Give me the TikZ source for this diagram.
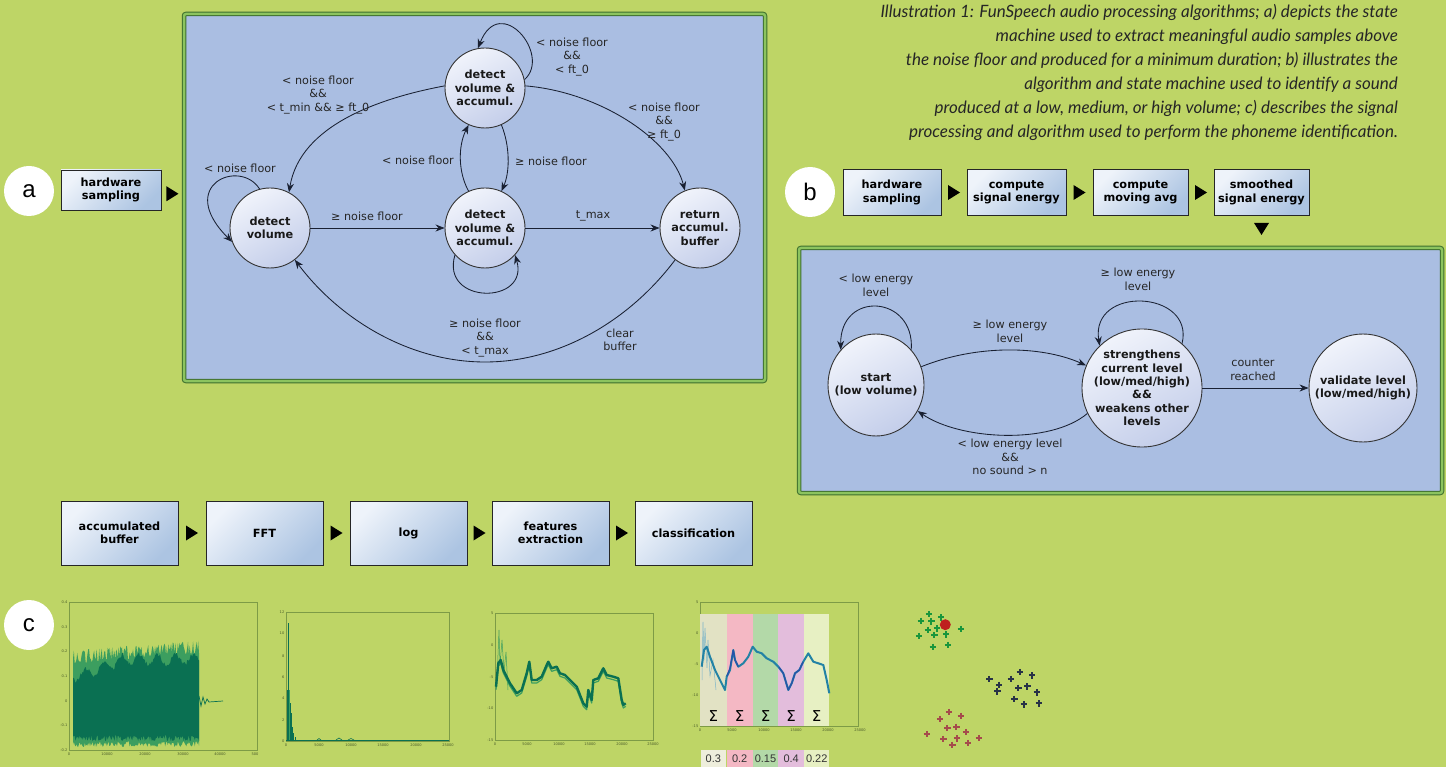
\documentclass[tikz,border=0pt]{standalone}
\usepackage{fontspec}
\setmainfont{DejaVu Sans}
\newfontfamily\capfont{Lato}
\newfontfamily\letfont{Liberation Sans}
\usetikzlibrary{arrows.meta,shapes.geometric,calc}
\definecolor{bg}{RGB}{190,213,102}
\definecolor{panelblue}{RGB}{170,190,226}
\definecolor{frameg}{RGB}{60,110,45}
\definecolor{bandg}{RGB}{140,196,95}
\definecolor{edgec}{RGB}{25,32,50}
\definecolor{stlight}{RGB}{240,243,251}
\definecolor{stdark}{RGB}{196,206,234}
\definecolor{boxlight}{RGB}{238,243,250}
\definecolor{boxdark}{RGB}{172,196,226}
\definecolor{axc}{RGB}{125,155,70}
\definecolor{wavedark}{RGB}{10,112,82}
\definecolor{wavelight}{RGB}{60,158,95}
\definecolor{curveb}{RGB}{35,130,165}
\definecolor{curvebd}{RGB}{40,80,170}
\definecolor{bandA}{RGB}{226,226,196}
\definecolor{bandB}{RGB}{244,184,196}
\definecolor{bandC}{RGB}{179,217,168}
\definecolor{bandD}{RGB}{227,189,220}
\definecolor{bandE}{RGB}{231,240,195}
\definecolor{crg}{RGB}{25,150,60}
\definecolor{crn}{RGB}{40,50,70}
\definecolor{crb}{RGB}{165,75,75}
\definecolor{reddot}{RGB}{190,30,30}
\newcommand{\rtri}[1]{\fill[black] (#1) ++(-6,-7.5) -- ++(12,7.5) -- ++(-12,7.5) -- cycle;}
\newcommand{\dtri}[1]{\fill[black] (#1) ++(-7.5,-6) -- ++(15,0) -- ++(-7.5,12) -- cycle;}
\tikzset{
  stbase/.style={draw=black!80, line width=0.9pt, top color=stlight, bottom color=stdark, shading angle=30, inner sep=0pt},
  stc/.style={stbase, circle, minimum size=80pt},
  ste/.style={stbase, ellipse},
  stt/.style={align=center, font=\fontsize{11.3}{13.3}\selectfont\bfseries, inner sep=0pt, text=black!90},
  lab/.style={align=center, font=\fontsize{11.2}{13.5}\selectfont, inner sep=0pt, text=black!85},
  edge/.style={draw=edgec, line width=0.85pt, -{Stealth[length=9pt,width=7pt]}},
  box/.style={rectangle, draw=black!85, line width=0.9pt, top color=boxlight, bottom color=boxdark, shading angle=45, align=center, font=\fontsize{11.3}{13.3}\selectfont\bfseries, inner sep=0pt},
  panel/.style={rectangle, rounded corners=2pt, draw=frameg, line width=1pt, double=bandg, double distance=2.5pt, fill=panelblue, inner sep=0pt},
  letc/.style={circle, fill=white, minimum size=50pt, inner sep=0pt, font=\letfont\fontsize{24}{24}\selectfont},
  capn/.style={align=right, font=\capfont\itshape\fontsize{17}{24}\selectfont, inner sep=0pt, text=black!85},
  axisf/.style={draw=axc, line width=0.45pt},
  tk/.style={font=\fontsize{3.6}{4}\selectfont, text=axc!60!black, inner sep=0.5pt},
  crs/.style={line width=1.9pt},
  valbox/.style={rectangle, minimum width=25pt, minimum height=18pt, inner sep=0pt, font=\letfont\fontsize{11}{11}\selectfont, text=black!80},
  sig/.style={font=\fontsize{15}{15}\selectfont, inner sep=0pt, text=black}
}
\begin{document}
\begin{tikzpicture}[x=1pt,y=-1pt]
\useasboundingbox (0,0) rectangle (1446,767);
\fill[bg] (0,0) rectangle (1446,767);

% ---------------- caption
\node[capn, anchor=north east] (cap) at (1398,4) {Illustration 1: FunSpeech audio processing algorithms; a) depicts the state\\machine used to extract meaningful audio samples above\\the noise floor and produced for a minimum duration; b) illustrates the\\algorithm and state machine used to identify a sound\\produced at a low, medium, or high volume; c) describes the signal\\processing and algorithm used to perform the phoneme identification.};

% ---------------- panel a
\node[letc] (la) at (29,191) {a};
\node[box, minimum width=100pt, minimum height=40pt] (ha) at (111,190) {hardware\\sampling};
\node[panel, minimum width=581pt, minimum height=367pt] (pa) at (474.5,197.5) {};
\rtri{$(ha.east)!0.5!(pa.west)$}

\node[stc, label={[stt]center:{detect\\volume}}] (dv) at (270,228) {};
\node[stc, label={[stt]center:{detect\\volume \&\\accumul.}}] (mid) at (485,228) {};
\node[stc, label={[stt]center:{detect\\volume \&\\accumul.}}] (top) at (485,88) {};
\node[stc, label={[stt]center:{return\\accumul.\\buffer}}] (ret) at (700,228) {};

\draw[edge] (dv.105) .. controls (240,158) and (175,185) .. (dv.200);
\draw[edge] (dv) -- (mid);
\draw[edge] (mid) -- (ret);
\draw[edge] (mid.222) .. controls (440,305) and (530,305) .. (mid.318);
\draw[edge] (mid.114) .. controls (458,172) and (458,146) .. (top.246);
\draw[edge] (top.294) .. controls (510,146) and (510,172) .. (mid.66);
\draw[edge] (top.12) .. controls (552,55) and (500,-8) .. (top.100);
\draw[edge] (top.177) .. controls (380,98) and (300,125) .. (dv.62);
\draw[edge] (top.3) .. controls (600,92) and (672,140) .. (ret.112);
\draw[edge] (ret.232) .. controls (630,320) and (560,362) .. (485,362) .. controls (410,362) and (340,320) .. (dv.308);

\node[lab] (l1) at (240,168) {< noise floor};
\node[lab] (l2) at (367,216) {≥ noise floor};
\node[lab] (l3) at (593,216) {t\_max};
\node[lab] (l4) at (418,160) {< noise floor};
\node[lab] (l5) at (551,161) {≥ noise floor};
\node[lab] (l6) at (572,57) {< noise floor\\\&\&\\< ft\_0};
\node[lab] (l7) at (318,95) {< noise floor\\\&\&\\< t\_min \&\& ≥ ft\_0};
\node[lab] (l8) at (664,122) {< noise floor\\\&\&\\≥ ft\_0};
\node[lab] (l9) at (485,338) {≥ noise floor\\\&\&\\< t\_max};
\node[lab] (l10) at (620,340) {clear\\buffer};

% ---------------- panel b
\node[letc] (lb) at (810,192) {b};
\node[box, minimum width=98pt, minimum height=46pt] (hb1) at (892,192.5) {hardware\\sampling};
\node[box, minimum width=99pt, minimum height=46pt] (hb2) at (1016.5,192.5) {compute\\signal energy};
\node[box, minimum width=95pt, minimum height=46pt] (hb3) at (1140.5,192.5) {compute\\moving avg};
\node[box, minimum width=95pt, minimum height=46pt] (hb4) at (1261.5,192.5) {smoothed\\signal energy};
\rtri{$(hb1.east)!0.5!(hb2.west)$}
\rtri{$(hb2.east)!0.5!(hb3.west)$}
\rtri{$(hb3.east)!0.5!(hb4.west)$}
\node[panel, minimum width=643pt, minimum height=245pt] (pb) at (1120.5,370.5) {};
\dtri{$(hb4.south)+(0,13)$}

\node[ste, minimum width=96pt, minimum height=102pt, label={[stt]center:{start\\(low volume)}}] (sb) at (876,385) {};
\node[ste, minimum width=120pt, minimum height=118pt, label={[stt]center:{strengthens\\current level\\(low/med/high)\\\&\&\\weakens other\\levels}}] (str) at (1142,388) {};
\node[ste, minimum width=108pt, minimum height=108pt, label={[stt]center:{validate level\\(low/med/high)}}] (val) at (1363,388) {};

\draw[edge] (sb.45) .. controls (915,295) and (840,290) .. (sb.135);
\draw[edge] (sb.22) .. controls (975,345) and (1040,345) .. (str.158);
\draw[edge] (str.205) .. controls (1050,445) and (960,440) .. (sb.328);
\draw[edge] (str.48) .. controls (1195,290) and (1090,285) .. (str.135);
\draw[edge] (str) -- (val);

\node[lab] (m1) at (876,285.5) {< low energy\\level};
\node[lab] (m2) at (1010,331.5) {≥ low energy\\level};
\node[lab] (m3) at (1010,457) {< low energy level\\\&\&\\no sound > n};
\node[lab] (m4) at (1138,279.5) {≥ low energy\\level};
\node[lab] (m5) at (1253,369.5) {counter\\reached};

% ---------------- panel c
\node[box, minimum width=117pt, minimum height=64pt] (c1) at (119.5,533) {accumulated\\buffer};
\node[box, minimum width=117pt, minimum height=64pt] (c2) at (264.5,533) {FFT};
\node[box, minimum width=117pt, minimum height=64pt] (c3) at (408.5,533) {log};
\node[box, minimum width=117pt, minimum height=64pt] (c4) at (550.5,533) {features\\extraction};
\node[box, minimum width=117pt, minimum height=64pt] (c5) at (693.5,533) {classification};
\rtri{$(c1.east)!0.5!(c2.west)$}
\rtri{$(c2.east)!0.5!(c3.west)$}
\rtri{$(c3.east)!0.5!(c4.west)$}
\rtri{$(c4.east)!0.5!(c5.west)$}
\node[letc] (lc) at (29,625) {c};

% plot 1: waveform
\draw[axisf] (69,602) rectangle (257,750);
\foreach \v/\yy [count=\i] in {0.4/602,0.3/627,0.2/651,0.1/676,0/701,-0.1/725,-0.2/750}
  \node[tk, anchor=east] (pay\i) at (68,\yy) {\v};
\foreach \v/\xx [count=\i] in {0/69,10000/107,20000/145,30000/183,40000/220,500/255}
  \node[tk, anchor=north] (pax\i) at (\xx,752) {\v};
\pgfmathsetseed{17}
\fill[wavelight] plot[domain=73:199, samples=150] (\x,{664-10*(\x-73)/126-14*rnd}) -- plot[domain=199:73, samples=150] (\x,{741+6*rnd}) -- cycle;
\fill[wavedark] plot[domain=73:199, samples=150] (\x,{680-18*min(1,(\x-73)/50)+5*sin(\x*20)-5*rnd}) -- plot[domain=199:73, samples=150] (\x,{735+6*rnd}) -- cycle;
\draw[wavedark, line width=0.7pt] (199,696) -- (201,706) -- (203,697) -- (205,704) -- (207,699) -- (209,702) -- (223,701);

% plot 2: spectrum
\draw[axisf] (286,612) rectangle (449,741);
\foreach \v/\yy [count=\i] in {12/612,10/633,8/656,6/677,4/698,2/720,0/741}
  \node[tk, anchor=east] (pby\i) at (285,\yy) {\v};
\foreach \v/\xx [count=\i] in {0/286,5000/319,10000/351,15000/383,20000/416,25000/448}
  \node[tk, anchor=north] (pbx\i) at (\xx,743) {\v};
\draw[wavelight, line width=0.6pt] (288,741) -- (288,650) (289.5,741) -- (289.5,690);
\draw[wavedark, line width=0.8pt] (287.3,741) -- (287.3,690) (288.7,741) -- (288.7,623) (290,741) -- (290,703) (291.2,741) -- (291.2,713) (292.4,741) -- (292.4,727) (293.6,741) -- (293.6,733) (295,741) -- (295,737);
\draw[wavedark, line width=0.8pt] (286,740.5) -- (449,740.5);
\draw[wavedark, line width=0.6pt] (317,740) -- (319,738.5) -- (321,740) (336,740) -- (339,738) -- (342,740) (348,740) -- (351,738.5) -- (354,740);

% plot 3: log spectrum
\draw[axisf] (495,613) rectangle (653,740);
\foreach \v/\yy [count=\i] in {5/613,0/645,-5/677,-10/708,-15/740}
  \node[tk, anchor=east] (pcy\i) at (494,\yy) {\v};
\foreach \v/\xx [count=\i] in {0/495,5000/527,10000/559,15000/590,20000/622,25000/653}
  \node[tk, anchor=north] (pcx\i) at (\xx,742) {\v};
\draw[wavelight, line width=0.5pt] (497,680) -- (499,630) -- (500,665) -- (502,640) -- (504,672) -- (506,652) -- (508,690);
\draw[wavelight, line width=1.2pt, line join=round, shift={(0,3)}] plot coordinates {(496,686.7) (498.3,663.3) (500.7,660) (503.3,670) (510,683.3) (516.7,693.3) (521.7,690) (526.7,673.3) (529.3,661.7) (531.7,680) (536.7,680) (541.7,676.7) (546.7,665) (548.3,661.7) (551.7,668.3) (556.7,666.7) (560,673.3) (565,675) (570,680) (576.7,686.7) (583.3,703.3) (586.7,706.7) (588.3,690) (591.7,700) (593.3,680) (598.3,678.3) (603.3,668.3) (606.7,675) (613.3,676.7) (618.3,678.3) (621.7,700) (623.3,705) (625.7,703.3)};
\draw[wavedark, line width=2.4pt, line join=round] plot coordinates {(496,686.7) (498.3,663.3) (500.7,660) (503.3,670) (510,683.3) (516.7,693.3) (521.7,690) (526.7,673.3) (529.3,661.7) (531.7,680) (536.7,680) (541.7,676.7) (546.7,665) (548.3,661.7) (551.7,668.3) (556.7,666.7) (560,673.3) (565,675) (570,680) (576.7,686.7) (583.3,703.3) (586.7,706.7) (588.3,690) (591.7,700) (593.3,680) (598.3,678.3) (603.3,668.3) (606.7,675) (613.3,676.7) (618.3,678.3) (621.7,700) (623.3,705) (625.7,703.3)};

% plot 4: features
\draw[axisf] (700,602) rectangle (858,726);
\foreach \v/\yy [count=\i] in {5/602,0/633,-5/664,-10/695,-15/726}
  \node[tk, anchor=east] (pdy\i) at (699,\yy) {\v};
\foreach \v/\xx [count=\i] in {0/700,5000/732,10000/764,15000/796,20000/828,25000/860}
  \node[tk, anchor=north] (pdx\i) at (\xx,728) {\v};
\fill[bandA] (700,614) rectangle (726.7,726);
\fill[bandB] (726.7,614) rectangle (752.7,726);
\fill[bandC] (752.7,614) rectangle (778.3,726);
\fill[bandD] (778.3,614) rectangle (804,726);
\fill[bandE] (804,614) rectangle (829.3,726);
\draw[curveb!60, line width=0.5pt] (702,680) -- (703,622) -- (704,660) -- (705,628) -- (707,668) -- (708,640) -- (710,676) -- (713,660) -- (716,690);
\draw[curveb, line width=2pt, line join=round] plot coordinates {(701.7,666.7) (704,650) (706.7,646.7) (710,656.7) (715,670) (720,680) (725,690) (726.7,676.7) (730,670) (733.3,650) (735,660) (738.3,666.7) (743.3,663.3) (748.3,656.7) (752.7,646.7) (756.7,651.7) (761.7,653.3) (766.7,658.3) (773.3,661.7) (778.3,666.7) (783.3,673.3) (788.3,690) (791.7,683.3) (795,673.3) (799.3,670) (803.3,661.7) (808.3,653.3) (813.3,661.7) (818.3,663.3) (823.3,665) (826.7,680) (829.3,693.3)};
\draw[curvebd, line width=1.2pt, line join=round] (727,676) -- (730,668) -- (733.3,650) -- (735,660) -- (738.3,666.7) (779,667) -- (783.3,673.3) -- (788.3,690) -- (791.7,683.3) -- (795,673.3) -- (799.3,670) -- (803,662);
\foreach \xx [count=\i] in {713.3,739.7,765.5,791.2,816.7}
  \node[sig] (sg\i) at (\xx,716) {Σ};
\node[valbox, fill=bandA!60!white] (v1) at (713.3,758.5) {0.3};
\node[valbox, fill=bandB, minimum width=26pt] (v2) at (739.7,758.5) {0.2};
\node[valbox, fill=bandC, minimum width=25.6pt] (v3) at (765.5,758.5) {0.15};
\node[valbox, fill=bandD, minimum width=25.7pt] (v4) at (791.2,758.5) {0.4};
\node[valbox, fill=bandE, minimum width=25.3pt] (v5) at (816.7,758.5) {0.22};

% scatter
\foreach \px/\py in {929/614,920.7/620.7,931.3/621.3,941/617.3,927.7/629.7,937/628.3,919/636,934.3/635,946/634.3,960.7/628.7,932.7/646.7,948/645}
  \draw[crs, crg] (\px,\py) +(-3.2,0) -- +(3.2,0) +(0,-3.2) -- +(0,3.2);
\fill[reddot] (945.3,624.7) circle (5.5);
\foreach \px/\py in {989.3/679,998.7/684.7,997.3/691.3,1010.7/678.7,1019.7/672,1032/675.3,1018.3/687.7,1027.3/686.3,1036.7/692.3,1014.3/699,1023.7/704.3,1038.7/703.3}
  \draw[crs, crn] (\px,\py) +(-3.2,0) -- +(3.2,0) +(0,-3.2) -- +(0,3.2);
\foreach \px/\py in {948.7/712,960.7/715.7,940/719,947.3/728,956.3/726.7,965.7/732,926.7/734,943.3/739,957/738.3,978.7/738,952.3/744.7,967.7/743}
  \draw[crs, crb] (\px,\py) +(-3.2,0) -- +(3.2,0) +(0,-3.2) -- +(0,3.2);
\end{tikzpicture}
\end{document}
